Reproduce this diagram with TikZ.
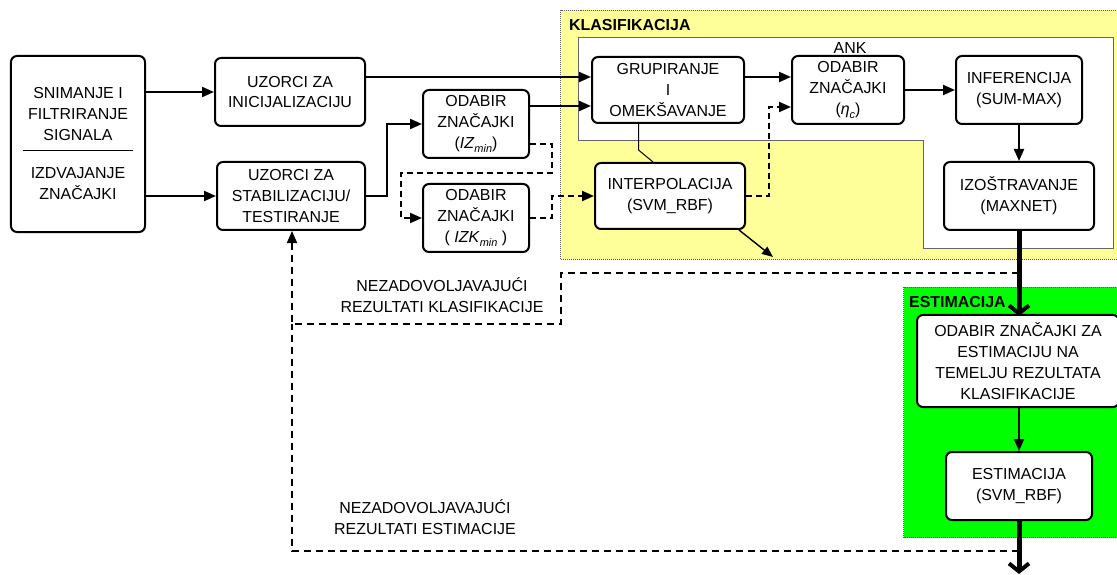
\documentclass[tikz,border=0pt]{standalone}
\usepackage{fontspec}
\setmainfont{Liberation Sans}
\usetikzlibrary{arrows.meta}
\definecolor{klas}{HTML}{FFFF99}
\definecolor{estg}{HTML}{00FF00}
\newcommand{\subit}[1]{\raisebox{-0.45ex}{\fontsize{11}{11}\selectfont\itshape #1}}
\begin{document}
\begin{tikzpicture}[x=1bp,y=-1bp,
  box/.style={draw, line width=2bp, rounded corners=6bp, fill=white, align=center,
    font=\fontsize{16}{21}\selectfont, inner sep=0pt},
  lbl/.style={align=center, font=\fontsize{16}{21}\selectfont, inner sep=0pt},
  ttl/.style={anchor=west, font=\fontsize{16}{18}\selectfont\bfseries, inner sep=0pt},
  arr/.style={line width=2bp, -{Triangle[length=12bp,width=10bp]}},
  darr/.style={line width=2bp, dash pattern=on 6bp off 4bp, -{Triangle[length=12bp,width=10bp]}},
  farr/.style={line width=1.5bp, dash pattern=on 7bp off 5bp, -{Triangle[length=12bp,width=10bp]}},
  fline/.style={line width=1.5bp, dash pattern=on 7bp off 5bp},
  thk/.style={line width=5bp, -{Straight Barb[length=8bp,width=20bp,line width=4bp]}},
  region/.style={draw=black!65, line width=1bp, densely dotted}
]
\clip (0,0) rectangle (1117,575);
\fill[white] (0,0) rectangle (1117,575);

% regions
\draw[region, fill=klas] (560.5,10.5) rectangle (1125,259.5);
\draw[draw=black!60, line width=1bp, fill=white] (578.5,37.5) -- (1113.5,37.5) -- (1113.5,248.5) -- (923.5,248.5) -- (923.5,140.5) -- (578.5,140.5) -- cycle;
\draw[region, fill=estg] (903.5,287.5) rectangle (1125,537.5);
\node[ttl] (kl) at (569,25) {KLASIFIKACIJA};
\node[ttl] (es) at (909,302) {ESTIMACIJA};
\node[lbl] (ankl) at (850,48) {ANK};

% source box
\node[box, minimum width=134bp, minimum height=176bp] (src) at (78,144) {};
\node[lbl] (srcA) at (78,114) {SNIMANJE I\\FILTRIRANJE\\SIGNALA};
\node[lbl] (srcB) at (78,184) {IZDVAJANJE\\ZNAČAJKI};
\draw[line width=1bp] (23,150.5) -- (133,150.5);

% boxes
\node[box, minimum width=150bp, minimum height=68bp] (u1) at (290,92) {UZORCI ZA\\INICIJALIZACIJU};
\node[box, minimum width=148bp, minimum height=68bp] (u2) at (291,196) {UZORCI ZA\\STABILIZACIJU/\\TESTIRANJE};
\node[box, minimum width=106bp, minimum height=68bp] (o1) at (476,124) {ODABIR\\ZNAČAJKI\\(\textit{IZ}\subit{min})};
\node[box, minimum width=106bp, minimum height=68bp] (o2) at (476,218) {ODABIR\\ZNAČAJKI\\( \textit{IZK}\subit{min} )};
\node[box, minimum width=152bp, minimum height=66bp] (grp) at (668,90) {GRUPIRANJE\\I\\OMEKŠAVANJE};
\node[box, minimum width=150bp, minimum height=66bp] (interp) at (670,196) {INTERPOLACIJA\\(SVM\_RBF)};
\node[box, minimum width=112bp, minimum height=68bp] (ank) at (848,90) {ODABIR\\ZNAČAJKI\\(\textit{η}\subit{c})};
\node[box, minimum width=126bp, minimum height=68bp] (inf) at (1019,90) {INFERENCIJA\\(SUM-MAX)};
\node[box, minimum width=150bp, minimum height=68bp] (izo) at (1019,196) {IZOŠTRAVANJE\\(MAXNET)};
\node[box, minimum width=202bp, minimum height=92bp] (est1) at (1018,361) {ODABIR ZNAČAJKI ZA\\ESTIMACIJU NA\\TEMELJU REZULTATA\\KLASIFIKACIJE};
\node[box, minimum width=146bp, minimum height=68bp] (est2) at (1019,486) {ESTIMACIJA\\(SVM\_RBF)};

% connectors
\draw[arr] (src.east |- u1.west) -- (u1.west);
\draw[arr] (src.east |- u2.west) -- (u2.west);
\draw[arr] (u1.east |- 0,77) -- (grp.west |- 0,77);
\draw[arr] (u2.east) -- (387,196) |- (o1.west);
\draw[arr] (o1.east |- 0,106) -- (grp.west |- 0,106);
\draw[darr] (o1.east |- 0,144) -| (552,173) -| (401,218) -- (o2.west);
\draw[darr] (o2.east) -- (552,218) |- (interp.west);
\draw[arr] (grp.east |- 0,77) -- (ank.west |- 0,77);
\draw[darr] (interp.east) -- (769,196) |- (ank.west |- 0,107);
\draw[arr] (ank.east) -- (inf.west);
\draw[arr] (inf.south) -- (izo.north);
\draw[line width=1bp] (grp.south -| 638.5,0) -- (638.5,150) -- (interp.north -| 653,0);
\coordinate (dout) at (773,257);
\draw[line width=1.4bp, -{Triangle[length=11bp,width=9bp]}] ([xshift=-7bp]interp.south east) -- (dout);
\draw[thk] (izo.south) -- ([yshift=-2bp]est1.north -| izo.south);
\draw[arr] (est1.south -| est2.north) -- (est2.north);
\coordinate (bottom) at (1019,574);
\draw[thk] (est2.south) -- (bottom);

% feedback
\draw[farr] (izo.south |- 0,273) -| (561,324) -| (u2.south -| 292,0);
\draw[fline] (est2.south |- 0,551) -| (292,324);
\node[lbl] (nk) at (442,295) {NEZADOVOLJAVAJUĆI\\REZULTATI KLASIFIKACIJE};
\node[lbl] (ne) at (425,517) {NEZADOVOLJAVAJUĆI\\REZULTATI ESTIMACIJE};
\end{tikzpicture}
\end{document}
